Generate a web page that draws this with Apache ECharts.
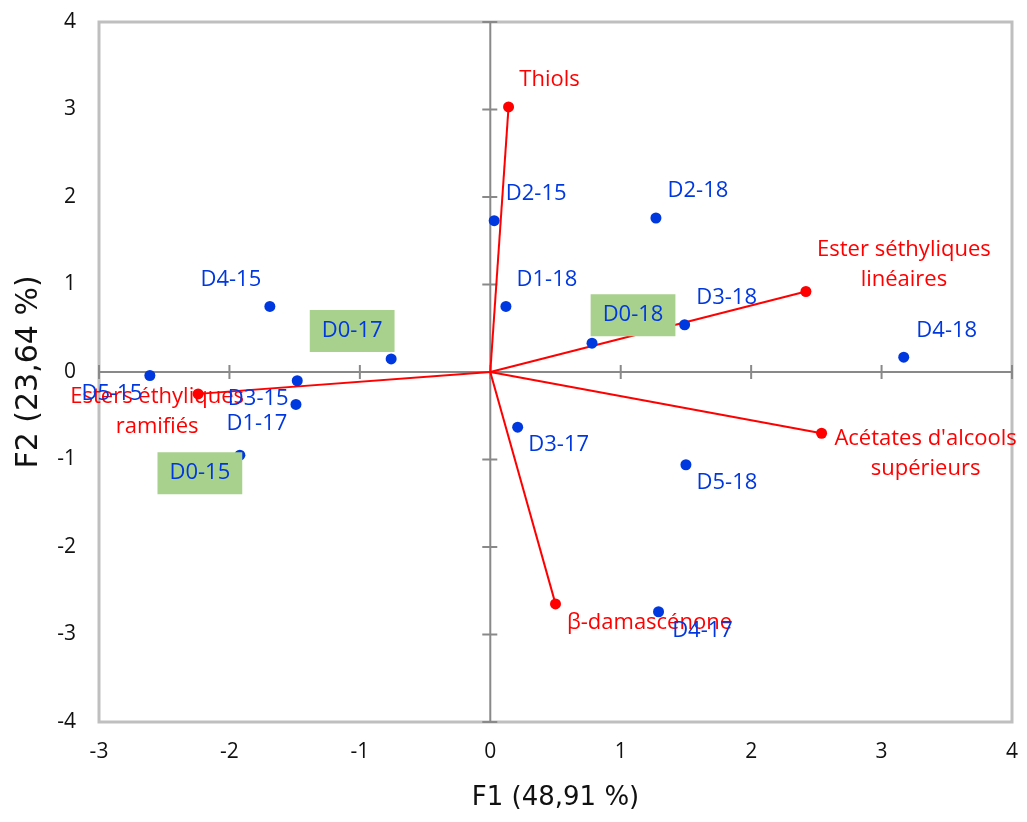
<!DOCTYPE html>
<html>
<head>
<meta charset="utf-8">
<script src="https://cdn.jsdelivr.net/npm/echarts@6/dist/echarts.min.js"></script>
<style>
html,body{margin:0;padding:0;background:#fff;}
#chart{width:1027px;height:822px;}
</style>
</head>
<body>
<div id="chart"></div>
<script>
// ---- data ----
const samples = ['D2-15','D2-18','D1-18','D0-18','D3-18','D4-18','D4-15','D0-17','D5-15','D3-15','D1-17','D0-15','D3-17','D5-18','D4-17'];
const sampleF1 = [0.03, 1.27, 0.12, 0.78, 1.49, 3.17, -1.69, -0.76, -2.61, -1.48, -1.49, -1.92, 0.21, 1.50, 1.29];
const sampleF2 = [1.73, 1.76, 0.75, 0.33, 0.54, 0.17, 0.75, 0.15, -0.04, -0.10, -0.37, -0.95, -0.63, -1.06, -2.74];
const highlighted = ['D0-15','D0-17','D0-18'];

const variables = ['Thiols', 'Ester séthyliques\nlinéaires', "Acétates d'alcools\nsupérieurs", 'β-damascénone', 'Esters éthyliques\nramifiés'];
const varF1 = [0.14, 2.42, 2.54, 0.50, -2.24];
const varF2 = [3.03, 0.92, -0.70, -2.65, -0.25];

const xTicks = [-3, -2, -1, 0, 1, 2, 3, 4];
const yTicks = [-4, -3, -2, -1, 0, 1, 2, 3, 4];
const xTitle = 'F1 (48,91 %)';
const yTitle = 'F2 (23,64 %)';

// ---- styling (label offsets in pixels) ----
const sampleLabelOffset = {
  'D2-15':[42,-27], 'D2-18':[42,-27], 'D1-18':[41,-27], 'D0-18':[41,-28], 'D3-18':[42,-27],
  'D4-18':[43,-26], 'D4-15':[-39,-27], 'D0-17':[-39,-28], 'D5-15':[-38,18], 'D3-15':[-39,18],
  'D1-17':[-39,19], 'D0-15':[-40,18], 'D3-17':[41,18], 'D5-18':[41,18], 'D4-17':[44,19]
};
const varLabelOffset = [[41,-27],[98,-27],[104,20],[94,19],[-41,18]];

const BLUE = '#0038e0';
const RED = '#ff0000';
const LABEL_FONT = '"Open Sans", "Noto Sans", sans-serif';

const chart = echarts.init(document.getElementById('chart'), null, {renderer:'canvas'});

const sampleData = samples.map((s, i) => {
  const hl = highlighted.indexOf(s) >= 0;
  const lab = {
    show: true, position: 'inside', offset: sampleLabelOffset[s],
    align: 'center', verticalAlign: 'middle'
  };
  if (hl) { lab.backgroundColor = '#a9d18e'; lab.padding = [10, 12]; }
  return { name: s, value: [sampleF1[i], sampleF2[i]], label: lab };
});

const varData = variables.map((v, i) => ({
  name: v, value: [varF1[i], varF2[i]],
  label: { show: true, position: 'inside', offset: varLabelOffset[i], align: 'center', verticalAlign: 'middle' }
}));

const xMin = xTicks[0], xMax = xTicks[xTicks.length-1];
const yMin = yTicks[0], yMax = yTicks[yTicks.length-1];

chart.setOption({
  animation: false,
  backgroundColor: '#ffffff',
  grid: { left: 99, right: 15, top: 22, bottom: 100, show: true, borderColor: '#bfbfbf', borderWidth: 3, backgroundColor: 'transparent' },
  xAxis: {
    type: 'value', min: xMin, max: xMax, interval: 1,
    axisLine: { show: false }, axisTick: { show: false }, splitLine: { show: false },
    axisLabel: { margin: 20, fontSize: 21, color: '#111', fontFamily: LABEL_FONT },
    name: xTitle, nameLocation: 'middle', nameGap: 63,
    nameTextStyle: { fontSize: 26, color: '#111', fontFamily: '"DejaVu Sans", sans-serif' }
  },
  yAxis: {
    type: 'value', min: yMin, max: yMax, interval: 1,
    axisLine: { show: false }, axisTick: { show: false }, splitLine: { show: false },
    axisLabel: { margin: 23, fontSize: 21, color: '#111', fontFamily: LABEL_FONT },
    name: yTitle, nameLocation: 'middle', nameGap: 55,
    nameTextStyle: { fontSize: 30, color: '#111', fontFamily: '"DejaVu Sans", sans-serif' }
  },
  series: [
    {
      type: 'custom', silent: true, z: 1,
      data: [[0, 0]],
      renderItem: function (params, api) {
        const children = [];
        const stroke = { stroke: '#898989', lineWidth: 2 };
        const l = api.coord([xMin, 0]), r = api.coord([xMax, 0]);
        const t = api.coord([0, yMax]), b = api.coord([0, yMin]);
        children.push({ type: 'line', shape: { x1: l[0], y1: l[1], x2: r[0], y2: r[1] }, style: stroke });
        children.push({ type: 'line', shape: { x1: t[0], y1: t[1], x2: b[0], y2: b[1] }, style: stroke });
        xTicks.forEach(x => {
          const p = api.coord([x, 0]);
          children.push({ type: 'line', shape: { x1: p[0], y1: p[1]-7, x2: p[0], y2: p[1]+7 }, style: stroke });
        });
        yTicks.forEach(y => {
          const p = api.coord([0, y]);
          children.push({ type: 'line', shape: { x1: p[0]-8, y1: p[1], x2: p[0]+7, y2: p[1] }, style: stroke });
        });
        return { type: 'group', children: children };
      }
    },
    {
      type: 'lines', coordinateSystem: 'cartesian2d', z: 2, silent: true,
      data: variables.map((v, i) => ({ coords: [[0, 0], [varF1[i], varF2[i]]] })),
      lineStyle: { color: RED, width: 2, opacity: 1 }
    },
    {
      type: 'scatter', z: 3, symbol: 'circle', symbolSize: 11,
      itemStyle: { color: RED, opacity: 1 },
      label: { color: RED, fontSize: 22, fontFamily: LABEL_FONT, lineHeight: 30, formatter: '{b}' },
      data: varData
    },
    {
      type: 'scatter', z: 4, symbol: 'circle', symbolSize: 11,
      itemStyle: { color: BLUE, opacity: 1 },
      label: { color: BLUE, fontSize: 22, fontFamily: LABEL_FONT, lineHeight: 22, formatter: '{b}' },
      data: sampleData
    }
  ]
});
</script>
</body>
</html>
